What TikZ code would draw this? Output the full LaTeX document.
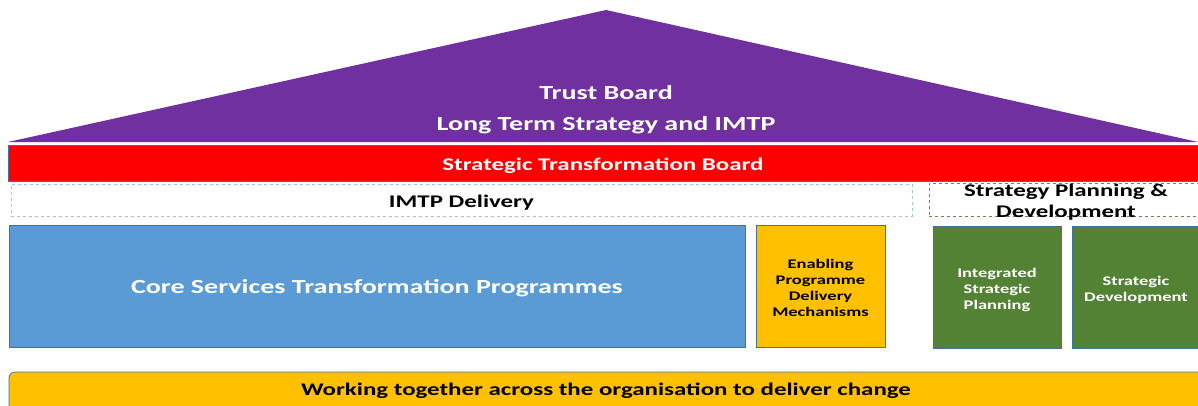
\documentclass[tikz,border=0pt]{standalone}
\usepackage{fontspec}
\setmainfont{Carlito}[FakeStretch=1.4]
\definecolor{roofpurple}{HTML}{7030A0}
\definecolor{boardred}{HTML}{FF0000}
\definecolor{coreblue}{HTML}{5B9BD5}
\definecolor{edgeblue}{HTML}{41719C}
\definecolor{dashblue}{HTML}{9DC3E6}
\definecolor{dashgreen}{HTML}{70AD47}
\definecolor{gold}{HTML}{FFC000}
\definecolor{olive}{HTML}{548235}
\newcommand{\bigtxt}{\bfseries\fontsize{20}{20}\selectfont}
\newcommand{\midtxt}{\bfseries\fontsize{17.8}{21}\selectfont}
\newcommand{\smalltxt}{\bfseries\fontsize{13.2}{16}\selectfont}
\begin{document}
\begin{tikzpicture}[x=1pt, y=-1pt, font=\bfseries,
    box/.style = {draw=edgeblue, line width=0.8pt, inner sep=0pt, outer sep=0pt, align=center},
    band/.style = {draw, dashed, line width=0.6pt, inner sep=0pt, outer sep=0pt, align=center},
    txt/.style = {inner sep=0pt, align=center, yshift=-2.5pt}]
    \useasboundingbox (0,0) rectangle (1198,405);
    % roof
    \fill[roofpurple] (8,142) -- (606,10) -- (1198,142) -- cycle;
    \node[txt, text=white, font=\bigtxt] (trust) at (606,90) {Trust Board};
    \node[txt, text=white, font=\bigtxt] (ltsimtp) at (606,123) {Long Term Strategy and IMTP};
    % board and delivery bands
    \node[box, fill=boardred, minimum width=1190, minimum height=36] (stb) at (603,163) {};
    \node[txt, text=white, font=\midtxt] (stbtext) at (stb) {Strategic Transformation Board};
    \node[band, draw=dashblue, minimum width=901, minimum height=32] (imtp) at (461.5,200) {};
    \node[txt, font=\midtxt] (imtptext) at (imtp) {IMTP Delivery};
    \node[band, draw=dashgreen!85!black, minimum width=269, minimum height=33] (spd) at (1063.5,199.5) {};
    \node[txt, font=\midtxt] (spdtext) at (1066,200) {Strategy Planning \&\\Development};
    % programme boxes
    \node[box, fill=coreblue, minimum width=736, minimum height=122] (core) at (377,286) {};
    \node[txt, text=white, font=\bfseries\fontsize{20}{20}\selectfont] (coretext) at (core) {Core Services Transformation Programmes};
    \node[box, fill=gold, minimum width=129, minimum height=122] (enab) at (820.5,286) {};
    \node[txt, font=\smalltxt, yshift=1pt] (enabtext) at (enab) {Enabling\\Programme\\Delivery\\Mechanisms};
    \node[box, fill=olive, minimum width=128, minimum height=122] (isp) at (997,287) {};
    \node[txt, text=white, font=\smalltxt] (isptext) at (isp) {Integrated\\Strategic\\Planning};
    \node[box, fill=olive, minimum width=128, minimum height=122] (sdev) at (1136,287) {};
    \node[txt, text=white, font=\smalltxt] (sdevtext) at (sdev) {Strategic\\Development};
    % footer
    \draw[edgeblue, fill=gold, line width=0.8pt, rounded corners=6pt] (9,420) -- (9,372) -- (1210,372) -- (1210,420);
    \node[txt, font=\midtxt] (work) at (606,388) {Working together across the organisation to deliver change};
\end{tikzpicture}
\end{document}
